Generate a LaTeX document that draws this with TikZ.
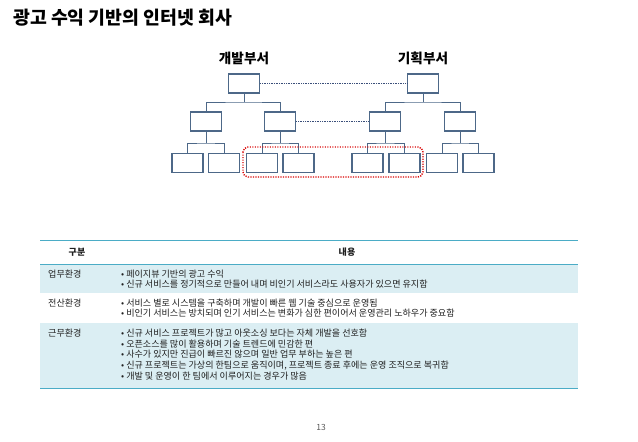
\documentclass[tikz,border=0pt]{standalone}
\usepackage{fontspec}
\setmainfont{Noto Sans CJK KR}
\usetikzlibrary{calc}
\definecolor{boxc}{HTML}{4D6888}
\definecolor{dotc}{HTML}{3A4F7A}
\definecolor{teal}{HTML}{4BACC6}
\definecolor{rowbg}{HTML}{DBEEF3}
\definecolor{txt}{HTML}{202020}
\tikzset{
  orgbox/.style={draw=boxc,line width=1.6pt,minimum width=31pt,minimum height=19pt,inner sep=0pt},
  conn/.style={draw=boxc,line width=0.8pt},
  dotline/.style={draw=dotc,line width=0.7pt,dash pattern=on 0.8pt off 0.9pt},
  ttext/.style={font=\fontsize{9.05}{10}\selectfont,text=txt,inner sep=0pt,anchor=west},
  thead/.style={font=\bfseries\fontsize{9}{10}\selectfont,text=txt,inner sep=0pt},
  dept/.style={font=\bfseries\fontsize{13.6}{15}\selectfont,inner sep=0pt},
}
\begin{document}
\begin{tikzpicture}[x=1pt,y=-1pt]
\useasboundingbox (0,0) rectangle (638,442);
% title
\node[font=\bfseries\fontsize{18.3}{20}\selectfont,anchor=west,inner sep=0pt] (title) at (13,18) {광고 수익 기반의 인터넷 회사};
% department labels
\node[dept] (ldev) at (244,58) {개발부서};
\node[dept] (lplan) at (423,58) {기획부서};
% org chart boxes
\node[orgbox] (t1) at (244,83.5) {};
\node[orgbox] (t2) at (423,83.5) {};
\node[orgbox] (c1) at (206,121.5) {};
\node[orgbox] (c2) at (280,121.5) {};
\node[orgbox] (c3) at (385,121.5) {};
\node[orgbox] (c4) at (460,121.5) {};
\node[orgbox] (g1) at (187.5,163) {};
\node[orgbox] (g2) at (224,163) {};
\node[orgbox] (g3) at (262,163) {};
\node[orgbox] (g4) at (298.5,163) {};
\node[orgbox] (g5) at (367.5,163) {};
\node[orgbox] (g6) at (404.5,163) {};
\node[orgbox] (g7) at (442,163) {};
\node[orgbox] (g8) at (478.5,163) {};
% connectors
\coordinate (b1) at (244,102);
\coordinate (b2) at (423,102);
\draw[conn] (t1.south) -- (b1);
\draw[conn] (c1.north) |- (b1) -| (c2.north);
\draw[conn] (t2.south) -- (b2);
\draw[conn] (c3.north) |- (b2) -| (c4.north);
\coordinate (d1) at (206,143);
\coordinate (d2) at (280,143);
\coordinate (d3) at (385,143);
\coordinate (d4) at (460,143);
\draw[conn] (c1.south) -- (d1);
\draw[conn] (g1.north) |- (d1) -| (g2.north);
\draw[conn] (c2.south) -- (d2);
\draw[conn] (g3.north) |- (d2) -| (g4.north);
\draw[conn] (c3.south) -- (d3);
\draw[conn] (g5.north) |- (d3) -| (g6.north);
\draw[conn] (c4.south) -- (d4);
\draw[conn] (g7.north) |- (d4) -| (g8.north);
\draw[dotline] (t1.east) -- (t2.west);
\draw[dotline] (c2.east) -- (c3.west);
% red dotted group
\draw[red!85!black,line width=1.4pt,dash pattern=on 1.2pt off 1.3pt,rounded corners=5pt] (243,147) rectangle (423,177);
% table
\fill[rowbg] (40,264) rectangle (578,293);
\fill[rowbg] (40,323) rectangle (578,388);
\draw[teal,line width=0.9pt] (40,240) -- (578,240);
\draw[teal,line width=0.9pt] (40,264) -- (578,264);
\draw[teal,line width=0.9pt] (40,388) -- (578,388);
\node[thead] (h1) at (77,252) {구분};
\node[thead] (h2) at (347,252) {내용};
% row 1
\node[ttext] (r1) at (48,274) {업무환경};
\node[ttext] (r1a) at (121,274) {• 페이지뷰 기반의 광고 수익};
\node[ttext] (r1b) at (121,284.5) {• 신규 서비스를 정기적으로 만들어 내며 비인기 서비스라도 사용자가 있으면 유지함};
% row 2
\node[ttext] (r2) at (48,303) {전산환경};
\node[ttext] (r2a) at (121,303) {• 서비스 별로 시스템을 구축하며 개발이 빠른 웹 기술 중심으로 운영됨};
\node[ttext] (r2b) at (121,313.5) {• 비인기 서비스는 방치되며 인기 서비스는 변화가 심한 편이어서 운영관리 노하우가 중요함};
% row 3
\node[ttext] (r3) at (48,333) {근무환경};
\node[ttext] (r3a) at (121,333) {• 신규 서비스 프로젝트가 많고 아웃소싱 보다는 자체 개발을 선호함};
\node[ttext] (r3b) at (121,343.7) {• 오픈소스를 많이 활용하며 기술 트렌드에 민감한 편};
\node[ttext] (r3c) at (121,354.4) {• 사수가 있지만 진급이 빠르진 않으며 일반 업무 부하는 높은 편};
\node[ttext] (r3d) at (121,365.1) {• 신규 프로젝트는 가상의 한팀으로 움직이며, 프로젝트 종료 후에는 운영 조직으로 복귀함};
\node[ttext] (r3e) at (121,375.8) {• 개발 및 운영이 한 팀에서 이루어지는 경우가 많음};
% page number
\node[font=\fontsize{8.5}{10}\selectfont,text=black!65,inner sep=0pt] (pg) at (321,427) {13};
\end{tikzpicture}
\end{document}
